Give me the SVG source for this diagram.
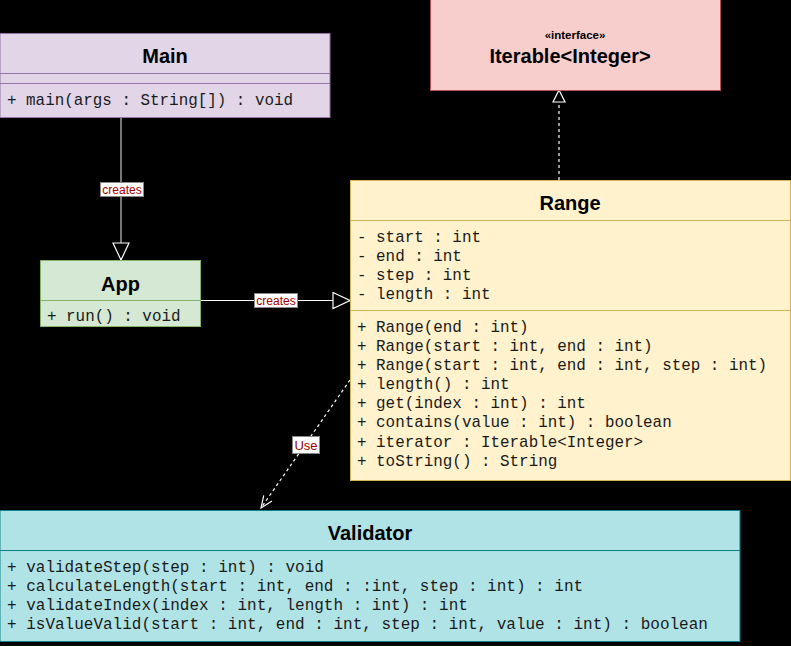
<svg xmlns="http://www.w3.org/2000/svg" width="791" height="646" viewBox="0 0 791 646">
<style>
.title{font-family:"Liberation Sans",Arial,sans-serif;font-weight:bold;font-size:20px;fill:#000;text-anchor:middle}
.mem{font-family:"Liberation Mono","Courier New",monospace;font-size:15.9px;fill:#1a1a1a}
.vmem{font-family:"Liberation Mono","Courier New",monospace;font-size:16px;fill:#1a1a1a}
.lbl{font-family:"Liberation Sans",Arial,sans-serif;font-size:12px;fill:#a20000;text-anchor:middle}
.lblbox{fill:#fff;stroke:#888;stroke-width:1}
.edge{fill:none;stroke:#fff;stroke-width:1.2}
.dash{stroke-dasharray:3,3}
</style>
<defs>
<marker id="tri" viewBox="0 0 19 18" markerWidth="19" markerHeight="18" refX="18" refY="9" orient="auto" markerUnits="userSpaceOnUse">
<path d="M1,1 L18,9 L1,17 Z" fill="#000" stroke="#fff" stroke-width="1.2"/>
</marker>
<marker id="triSmall" viewBox="0 0 14 14" markerWidth="14" markerHeight="14" refX="13" refY="7" orient="auto" markerUnits="userSpaceOnUse">
<path d="M1,1 L13,7 L1,13 Z" fill="#000" stroke="#fff" stroke-width="1.2"/>
</marker>
<marker id="open" viewBox="0 0 14 12" markerWidth="14" markerHeight="12" refX="13" refY="6" orient="auto" markerUnits="userSpaceOnUse">
<path d="M1,1 L13,6 L1,11" fill="none" stroke="#fff" stroke-width="1.2"/>
</marker>
</defs>
<rect width="791" height="646" fill="#000"/>

<g id="connectors">
<line class="edge" x1="121" y1="117.5" x2="121" y2="260" style="stroke:#c8c8c8" marker-end="url(#tri)"/>
<line class="edge" x1="200.5" y1="300.5" x2="350" y2="300.5" marker-end="url(#tri)"/>
<line class="edge dash" x1="559" y1="180" x2="559" y2="90" marker-end="url(#triSmall)"/>
<line class="edge dash" x1="350" y1="380" x2="261" y2="508" marker-end="url(#open)"/>
<g id="lbl-main-app">
<rect class="lblbox" x="100.5" y="182.5" width="43" height="14"/>
<text class="lbl" x="122" y="194">creates</text>
</g>
<g id="lbl-app-range">
<rect class="lblbox" x="254.5" y="293.5" width="43" height="14"/>
<text class="lbl" x="276" y="305">creates</text>
</g>
<g id="lbl-use">
<rect class="lblbox" x="292.5" y="436.5" width="27" height="17"/>
<text class="lbl" x="306" y="450" style="font-size:13px">Use</text>
</g>
</g>

<g id="Main">
<rect x="0" y="33.5" width="330" height="84" fill="#e1d5e7" stroke="#9673a6" stroke-width="1"/>
<line x1="0" y1="73.5" x2="330" y2="73.5" stroke="#9673a6"/>
<line x1="0" y1="83.5" x2="330" y2="83.5" stroke="#9673a6"/>
<text class="title" x="165" y="63">Main</text>
<text class="mem" x="7" y="104.5">+ main(args : String[]) : void</text>
</g>

<g id="App">
<rect x="40.5" y="260.5" width="160" height="66" fill="#d5e8d4" stroke="#82b366" stroke-width="1"/>
<line x1="40.5" y1="300.5" x2="200.5" y2="300.5" stroke="#82b366"/>
<text class="title" x="120.5" y="291">App</text>
<text class="mem" x="47" y="321">+ run() : void</text>
</g>

<g id="Iterable">
<rect x="430.5" y="-0.5" width="290" height="91" fill="#f8cecc" stroke="#b85450" stroke-width="1"/>
<text x="575" y="39" style="font-family:'Liberation Sans',Arial,sans-serif;font-weight:bold;font-size:11.5px;text-anchor:middle;fill:#000">«interface»</text>
<text class="title" x="570" y="63">Iterable&lt;Integer&gt;</text>
</g>

<g id="Range">
<rect x="350.5" y="180.5" width="440" height="300" fill="#fff2cc" stroke="#d6b656" stroke-width="1"/>
<line x1="350.5" y1="220.5" x2="790.5" y2="220.5" stroke="#d6b656"/>
<line x1="350.5" y1="310.5" x2="790.5" y2="310.5" stroke="#d6b656"/>
<text class="title" x="570" y="210">Range</text>
<text class="mem" x="357" y="241.5">- start : int</text>
<text class="mem" x="357" y="260.7">- end : int</text>
<text class="mem" x="357" y="279.8">- step : int</text>
<text class="mem" x="357" y="299">- length : int</text>
<text class="mem" x="357" y="331.5">+ Range(end : int)</text>
<text class="mem" x="357" y="350.7">+ Range(start : int, end : int)</text>
<text class="mem" x="357" y="369.8">+ Range(start : int, end : int, step : int)</text>
<text class="mem" x="357" y="389">+ length() : int</text>
<text class="mem" x="357" y="408.2">+ get(index : int) : int</text>
<text class="mem" x="357" y="427.4">+ contains(value : int) : boolean</text>
<text class="mem" x="357" y="446.6">+ iterator : Iterable&lt;Integer&gt;</text>
<text class="mem" x="357" y="465.8">+ toString() : String</text>
</g>

<g id="Validator">
<rect x="0" y="510.5" width="740" height="131" fill="#b0e3e6" stroke="#0e8088" stroke-width="1"/>
<line x1="0" y1="550.5" x2="740" y2="550.5" stroke="#0e8088"/>
<text class="title" x="370" y="540">Validator</text>
<text class="vmem" x="7" y="571.7">+ validateStep(step : int) : void</text>
<text class="vmem" x="7" y="590.9">+ calculateLength(start : int, end : :int, step : int) : int</text>
<text class="vmem" x="7" y="610.1">+ validateIndex(index : int, length : int) : int</text>
<text class="vmem" x="7" y="629.3">+ isValueValid(start : int, end : int, step : int, value : int) : boolean</text>
</g>
</svg>
